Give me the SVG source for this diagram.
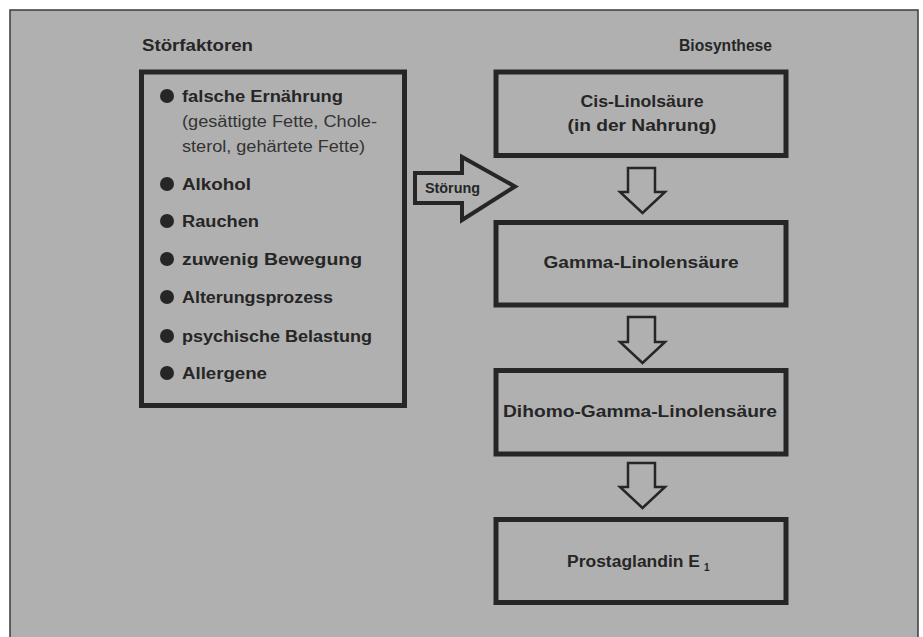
<svg xmlns="http://www.w3.org/2000/svg" width="923" height="637" viewBox="0 0 923 637">
<defs>
<style>
.panel{fill:#b0b0b0;stroke:#3a3a3a;stroke-width:1.5}
.box{fill:none;stroke:#262626;stroke-width:5}
.arr{fill:none;stroke:#262626;stroke-width:2.5;stroke-linejoin:miter}
.arrS{fill:none;stroke:#262626;stroke-width:4;stroke-linejoin:miter}
.t{font-family:"Liberation Sans",Arial,sans-serif;font-weight:bold;font-size:16px;fill:#262626}
.r{font-family:"Liberation Sans",Arial,sans-serif;font-weight:normal;font-size:16px;fill:#333333}
.c{text-anchor:middle}
.e{text-anchor:end}
.dot{fill:#262626}
</style>
</defs>
<rect x="0" y="0" width="923" height="637" fill="#ffffff"/>
<rect class="panel" x="10" y="10" width="908" height="640"/>
<g id="titles">
<text class="t" x="142" y="51" textLength="111" lengthAdjust="spacingAndGlyphs">Störfaktoren</text>
<text class="t e" x="772" y="51" textLength="93" lengthAdjust="spacingAndGlyphs">Biosynthese</text>
</g>
<g id="stoerfaktoren">
<rect class="box" x="141.5" y="72" width="263" height="333.5"/>
<circle class="dot" cx="167" cy="96" r="7"/>
<text class="t" x="182" y="102" textLength="161" lengthAdjust="spacingAndGlyphs">falsche Ernährung</text>
<text class="r" x="182" y="127" textLength="195" lengthAdjust="spacingAndGlyphs">(gesättigte Fette, Chole-</text>
<text class="r" x="182" y="152" textLength="183" lengthAdjust="spacingAndGlyphs">sterol, gehärtete Fette)</text>
<circle class="dot" cx="167" cy="184" r="7"/>
<text class="t" x="182" y="190" textLength="69" lengthAdjust="spacingAndGlyphs">Alkohol</text>
<circle class="dot" cx="167" cy="221" r="7"/>
<text class="t" x="182" y="227" textLength="77" lengthAdjust="spacingAndGlyphs">Rauchen</text>
<circle class="dot" cx="167" cy="259" r="7"/>
<text class="t" x="182" y="265" textLength="180" lengthAdjust="spacingAndGlyphs">zuwenig Bewegung</text>
<circle class="dot" cx="167" cy="297" r="7"/>
<text class="t" x="182" y="303" textLength="151" lengthAdjust="spacingAndGlyphs">Alterungsprozess</text>
<circle class="dot" cx="167" cy="336" r="7"/>
<text class="t" x="182" y="342" textLength="190" lengthAdjust="spacingAndGlyphs">psychische Belastung</text>
<circle class="dot" cx="167" cy="373" r="7"/>
<text class="t" x="182" y="379" textLength="85" lengthAdjust="spacingAndGlyphs">Allergene</text>
</g>
<g id="cis">
<rect class="box" x="496" y="72" width="290" height="83.5"/>
<text class="t c" x="642" y="107" textLength="123" lengthAdjust="spacingAndGlyphs">Cis-Linolsäure</text>
<text class="t c" x="642" y="131" textLength="149" lengthAdjust="spacingAndGlyphs">(in der Nahrung)</text>
</g>
<g id="gamma">
<rect class="box" x="496" y="222.5" width="290" height="82.5"/>
<text class="t c" x="641" y="268" textLength="195" lengthAdjust="spacingAndGlyphs">Gamma-Linolensäure</text>
</g>
<g id="dihomo">
<rect class="box" x="496" y="370.5" width="290" height="83.5"/>
<text class="t c" x="640" y="417" textLength="274" lengthAdjust="spacingAndGlyphs">Dihomo-Gamma-Linolensäure</text>
</g>
<g id="prostaglandin">
<rect class="box" x="496" y="519.5" width="290" height="83"/>
<text class="t" x="567" y="567" textLength="133" lengthAdjust="spacingAndGlyphs">Prostaglandin E</text>
<text class="t" x="704" y="571" style="font-size:10px">1</text>
</g>
<g id="connectors">
<g id="stoerung">
<path class="arrS" d="M415,173 L462,173 L462,157 L515,186.5 L462,220 L462,203 L415,203 Z"/>
<text class="t" x="425" y="193" style="font-size:14px" textLength="55" lengthAdjust="spacingAndGlyphs">Störung</text>
</g>
<path class="arr" d="M628,168 L655,168 L655,192 L665,192 L642.5,213 L620,192 L628,192 Z"/>
<path class="arr" d="M628,317 L655,317 L655,342 L665,342 L642.5,363 L620,342 L628,342 Z"/>
<path class="arr" d="M628,463 L655,463 L655,487 L665,487 L642.5,508 L620,487 L628,487 Z"/>
</g>
</svg>
